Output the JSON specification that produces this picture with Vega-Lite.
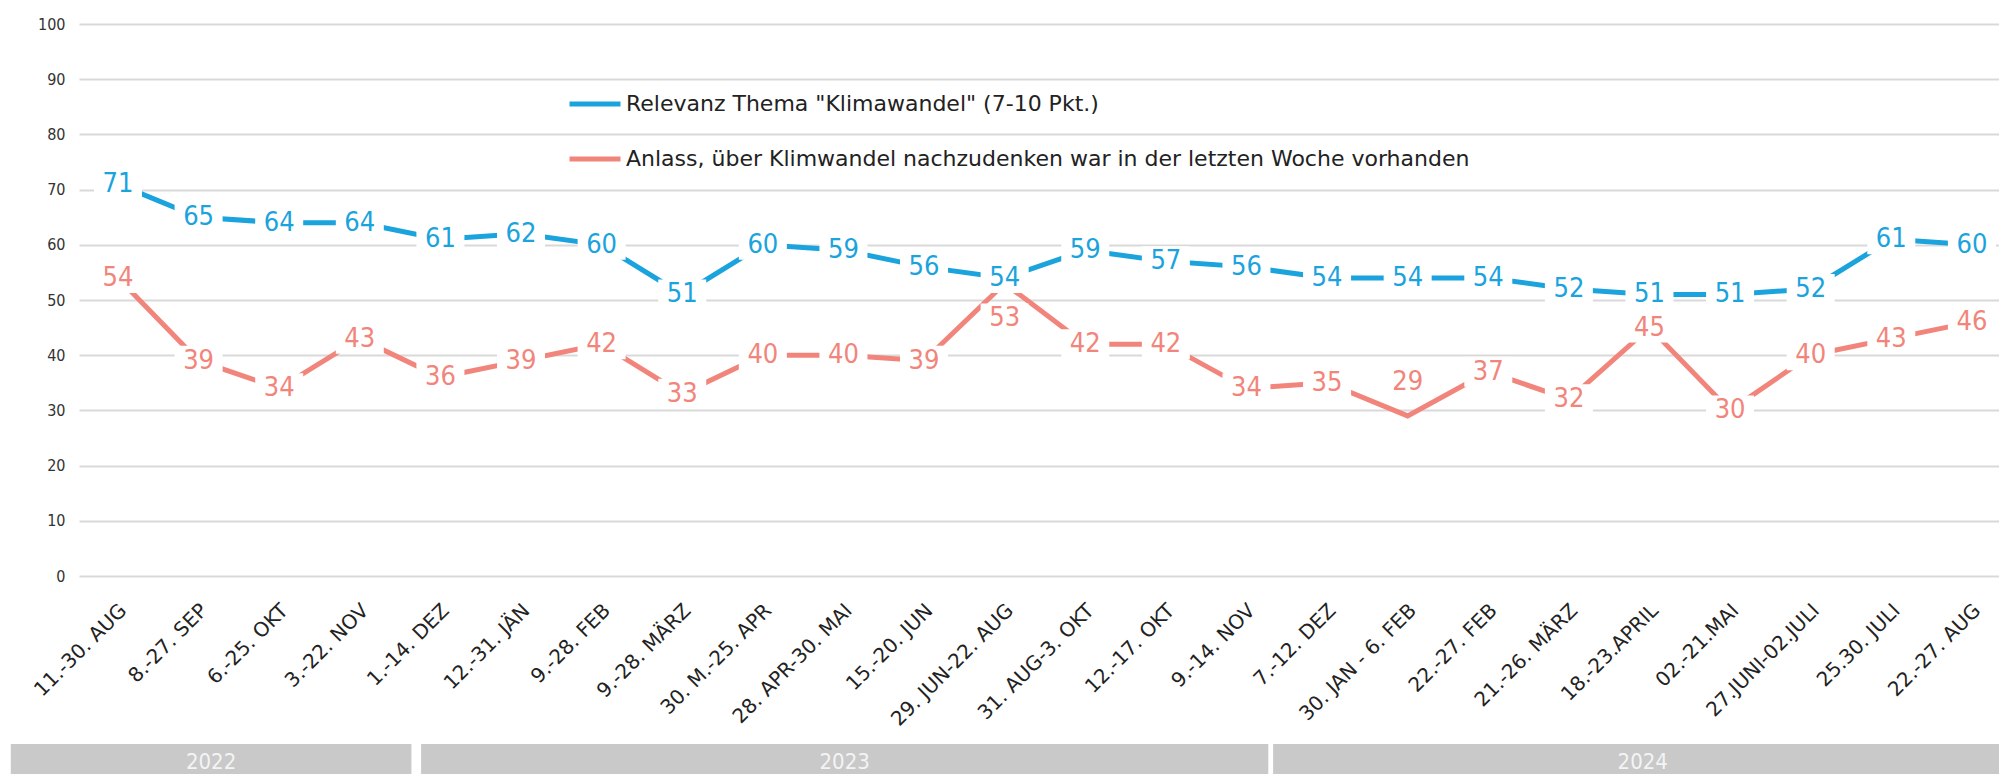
{
  "$schema": "https://vega.github.io/schema/vega-lite/v6.json",
  "width": 1920,
  "height": 552,
  "autosize": {"type": "none"},
  "padding": {"left": 79, "top": 24, "right": 0, "bottom": 198},
  "background": "white",
  "config": {
    "font": "Liberation Sans Narrow, DejaVu Sans Condensed, Liberation Sans, sans-serif",
    "view": {"stroke": null}
  },
  "datasets": {
    "series": [
      {"period": "11.-30. AUG", "series": "Relevanz Thema \"Klimawandel\" (7-10 Pkt.)", "value": 71, "pos": "center"},
      {"period": "11.-30. AUG", "series": "Anlass, über Klimwandel nachzudenken war in der letzten Woche vorhanden", "value": 54, "pos": "center"},
      {"period": "8.-27. SEP", "series": "Relevanz Thema \"Klimawandel\" (7-10 Pkt.)", "value": 65, "pos": "center"},
      {"period": "8.-27. SEP", "series": "Anlass, über Klimwandel nachzudenken war in der letzten Woche vorhanden", "value": 39, "pos": "center"},
      {"period": "6.-25. OKT", "series": "Relevanz Thema \"Klimawandel\" (7-10 Pkt.)", "value": 64, "pos": "center"},
      {"period": "6.-25. OKT", "series": "Anlass, über Klimwandel nachzudenken war in der letzten Woche vorhanden", "value": 34, "pos": "center"},
      {"period": "3.-22. NOV", "series": "Relevanz Thema \"Klimawandel\" (7-10 Pkt.)", "value": 64, "pos": "center"},
      {"period": "3.-22. NOV", "series": "Anlass, über Klimwandel nachzudenken war in der letzten Woche vorhanden", "value": 43, "pos": "center"},
      {"period": "1.-14. DEZ", "series": "Relevanz Thema \"Klimawandel\" (7-10 Pkt.)", "value": 61, "pos": "center"},
      {"period": "1.-14. DEZ", "series": "Anlass, über Klimwandel nachzudenken war in der letzten Woche vorhanden", "value": 36, "pos": "center"},
      {"period": "12.-31. JÄN", "series": "Relevanz Thema \"Klimawandel\" (7-10 Pkt.)", "value": 62, "pos": "center"},
      {"period": "12.-31. JÄN", "series": "Anlass, über Klimwandel nachzudenken war in der letzten Woche vorhanden", "value": 39, "pos": "center"},
      {"period": "9.-28. FEB", "series": "Relevanz Thema \"Klimawandel\" (7-10 Pkt.)", "value": 60, "pos": "center"},
      {"period": "9.-28. FEB", "series": "Anlass, über Klimwandel nachzudenken war in der letzten Woche vorhanden", "value": 42, "pos": "center"},
      {"period": "9.-28. MÄRZ", "series": "Relevanz Thema \"Klimawandel\" (7-10 Pkt.)", "value": 51, "pos": "center"},
      {"period": "9.-28. MÄRZ", "series": "Anlass, über Klimwandel nachzudenken war in der letzten Woche vorhanden", "value": 33, "pos": "center"},
      {"period": "30. M.-25. APR", "series": "Relevanz Thema \"Klimawandel\" (7-10 Pkt.)", "value": 60, "pos": "center"},
      {"period": "30. M.-25. APR", "series": "Anlass, über Klimwandel nachzudenken war in der letzten Woche vorhanden", "value": 40, "pos": "center"},
      {"period": "28. APR-30. MAI", "series": "Relevanz Thema \"Klimawandel\" (7-10 Pkt.)", "value": 59, "pos": "center"},
      {"period": "28. APR-30. MAI", "series": "Anlass, über Klimwandel nachzudenken war in der letzten Woche vorhanden", "value": 40, "pos": "center"},
      {"period": "15.-20. JUN", "series": "Relevanz Thema \"Klimawandel\" (7-10 Pkt.)", "value": 56, "pos": "center"},
      {"period": "15.-20. JUN", "series": "Anlass, über Klimwandel nachzudenken war in der letzten Woche vorhanden", "value": 39, "pos": "center"},
      {"period": "29. JUN-22. AUG", "series": "Relevanz Thema \"Klimawandel\" (7-10 Pkt.)", "value": 54, "pos": "center"},
      {"period": "29. JUN-22. AUG", "series": "Anlass, über Klimwandel nachzudenken war in der letzten Woche vorhanden", "value": 53, "pos": "below"},
      {"period": "31. AUG-3. OKT", "series": "Relevanz Thema \"Klimawandel\" (7-10 Pkt.)", "value": 59, "pos": "center"},
      {"period": "31. AUG-3. OKT", "series": "Anlass, über Klimwandel nachzudenken war in der letzten Woche vorhanden", "value": 42, "pos": "center"},
      {"period": "12.-17. OKT", "series": "Relevanz Thema \"Klimawandel\" (7-10 Pkt.)", "value": 57, "pos": "center"},
      {"period": "12.-17. OKT", "series": "Anlass, über Klimwandel nachzudenken war in der letzten Woche vorhanden", "value": 42, "pos": "center"},
      {"period": "9.-14. NOV", "series": "Relevanz Thema \"Klimawandel\" (7-10 Pkt.)", "value": 56, "pos": "center"},
      {"period": "9.-14. NOV", "series": "Anlass, über Klimwandel nachzudenken war in der letzten Woche vorhanden", "value": 34, "pos": "center"},
      {"period": "7.-12. DEZ", "series": "Relevanz Thema \"Klimawandel\" (7-10 Pkt.)", "value": 54, "pos": "center"},
      {"period": "7.-12. DEZ", "series": "Anlass, über Klimwandel nachzudenken war in der letzten Woche vorhanden", "value": 35, "pos": "center"},
      {"period": "30. JAN - 6. FEB", "series": "Relevanz Thema \"Klimawandel\" (7-10 Pkt.)", "value": 54, "pos": "center"},
      {"period": "30. JAN - 6. FEB", "series": "Anlass, über Klimwandel nachzudenken war in der letzten Woche vorhanden", "value": 29, "pos": "above"},
      {"period": "22.-27. FEB", "series": "Relevanz Thema \"Klimawandel\" (7-10 Pkt.)", "value": 54, "pos": "center"},
      {"period": "22.-27. FEB", "series": "Anlass, über Klimwandel nachzudenken war in der letzten Woche vorhanden", "value": 37, "pos": "center"},
      {"period": "21.-26. MÄRZ", "series": "Relevanz Thema \"Klimawandel\" (7-10 Pkt.)", "value": 52, "pos": "center"},
      {"period": "21.-26. MÄRZ", "series": "Anlass, über Klimwandel nachzudenken war in der letzten Woche vorhanden", "value": 32, "pos": "center"},
      {"period": "18.-23.APRIL", "series": "Relevanz Thema \"Klimawandel\" (7-10 Pkt.)", "value": 51, "pos": "center"},
      {"period": "18.-23.APRIL", "series": "Anlass, über Klimwandel nachzudenken war in der letzten Woche vorhanden", "value": 45, "pos": "center"},
      {"period": "02.-21.MAI", "series": "Relevanz Thema \"Klimawandel\" (7-10 Pkt.)", "value": 51, "pos": "center"},
      {"period": "02.-21.MAI", "series": "Anlass, über Klimwandel nachzudenken war in der letzten Woche vorhanden", "value": 30, "pos": "center"},
      {"period": "27.JUNI-02.JULI", "series": "Relevanz Thema \"Klimawandel\" (7-10 Pkt.)", "value": 52, "pos": "center"},
      {"period": "27.JUNI-02.JULI", "series": "Anlass, über Klimwandel nachzudenken war in der letzten Woche vorhanden", "value": 40, "pos": "center"},
      {"period": "25.30. JULI", "series": "Relevanz Thema \"Klimawandel\" (7-10 Pkt.)", "value": 61, "pos": "center"},
      {"period": "25.30. JULI", "series": "Anlass, über Klimwandel nachzudenken war in der letzten Woche vorhanden", "value": 43, "pos": "center"},
      {"period": "22.-27. AUG", "series": "Relevanz Thema \"Klimawandel\" (7-10 Pkt.)", "value": 60, "pos": "center"},
      {"period": "22.-27. AUG", "series": "Anlass, über Klimwandel nachzudenken war in der letzten Woche vorhanden", "value": 46, "pos": "center"}
    ],
    "years": [
      {"year": "2022", "start": -1.33, "end": 3.64},
      {"year": "2023", "start": 3.76, "end": 14.27},
      {"year": "2024", "start": 14.33, "end": 23.5}
    ]
  },
  "layer": [
    {
      "data": {"name": "series"},
      "encoding": {
        "x": {
          "field": "period", "type": "ordinal", "sort": null,
          "scale": {"type": "point", "padding": 0.41, "align": 0.59},
          "axis": {"title": null, "labelAngle": -45, "labelFont": "DejaVu Sans", "labelFontSize": 20, "labelColor": "#222222", "domain": false, "ticks": false, "grid": false, "labelPadding": 24, "labelOffset": -2, "labelOverlap": false, "labelBound": false, "labelLimit": 0}
        },
        "y": {
          "field": "value", "type": "quantitative",
          "scale": {"domain": [0, 100], "nice": false},
          "axis": {"title": null, "values": [0, 10, 20, 30, 40, 50, 60, 70, 80, 90, 100], "grid": true, "gridColor": "#d9d9d9", "gridWidth": 2, "domain": false, "ticks": false, "labelFontSize": 16, "labelColor": "#333333", "labelPadding": 14}
        },
        "color": {
          "field": "series", "type": "nominal",
          "scale": {
            "domain": ["Relevanz Thema \"Klimawandel\" (7-10 Pkt.)", "Anlass, über Klimwandel nachzudenken war in der letzten Woche vorhanden"],
            "range": ["#1ba3dd", "#f2857b"]
          },
          "legend": {"title": null, "orient": "none", "legendX": 488, "legendY": 52, "direction": "vertical", "symbolType": "stroke", "symbolStrokeWidth": 5, "symbolSize": 2601, "labelFont": "DejaVu Sans", "labelFontSize": 22, "labelColor": "#222222", "labelOffset": 3, "rowPadding": 16, "padding": 0, "labelLimit": 0}
        }
      },
      "layer": [
        {"mark": {"type": "line", "strokeWidth": 5}},
        {
          "transform": [{"filter": "datum.pos === 'center'"}],
          "mark": {"type": "point", "shape": "M-1.6,-1H1.6V1H-1.6Z", "filled": true, "size": 900, "opacity": 1, "strokeWidth": 0},
          "encoding": {"color": {"value": "white"}}
        },
        {
          "transform": [{"filter": "datum.pos === 'above'"}],
          "mark": {"type": "point", "shape": "M-1.6,-1H1.6V1H-1.6Z", "filled": true, "size": 900, "opacity": 1, "strokeWidth": 0, "yOffset": -34},
          "encoding": {"color": {"value": "white"}}
        },
        {
          "transform": [{"filter": "datum.pos === 'below'"}],
          "mark": {"type": "point", "shape": "M-1.6,-1H1.6V1H-1.6Z", "filled": true, "size": 900, "opacity": 1, "strokeWidth": 0, "yOffset": 35},
          "encoding": {"color": {"value": "white"}}
        },
        {
          "transform": [{"filter": "datum.pos === 'center'"}],
          "mark": {"type": "text", "fontSize": 27, "baseline": "middle", "align": "center"},
          "encoding": {"text": {"field": "value", "type": "quantitative"}}
        },
        {
          "transform": [{"filter": "datum.pos === 'above'"}],
          "mark": {"type": "text", "fontSize": 27, "baseline": "middle", "align": "center", "yOffset": -34},
          "encoding": {"text": {"field": "value", "type": "quantitative"}}
        },
        {
          "transform": [{"filter": "datum.pos === 'below'"}],
          "mark": {"type": "text", "fontSize": 27, "baseline": "middle", "align": "center", "yOffset": 35},
          "encoding": {"text": {"field": "value", "type": "quantitative"}}
        }
      ]
    },
    {
      "data": {"name": "years"},
      "layer": [
        {
          "mark": {"type": "rect", "color": "#c9c9c9"},
          "encoding": {
            "x": {"field": "start", "type": "quantitative", "scale": {"domain": [0, 23], "range": [39, 1893], "nice": false, "zero": false}, "axis": null},
            "x2": {"field": "end"},
            "y": {"datum": 0, "type": "quantitative", "scale": {"domain": [0, 1], "range": [720, 750], "nice": false, "zero": false}, "axis": null},
            "y2": {"datum": 1}
          }
        },
        {
          "transform": [{"calculate": "(datum.start + datum.end) / 2", "as": "mid"}],
          "mark": {"type": "text", "color": "#f4f4f4", "fontSize": 22, "baseline": "middle", "align": "center", "dy": 3},
          "encoding": {
            "x": {"field": "mid", "type": "quantitative"},
            "y": {"datum": 0.5, "type": "quantitative"},
            "text": {"field": "year"}
          }
        }
      ]
    }
  ],
  "resolve": {"scale": {"x": "independent", "y": "independent"}}
}
